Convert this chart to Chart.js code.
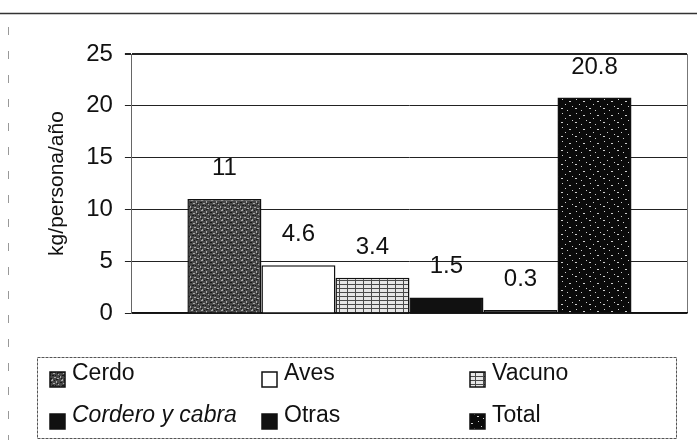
<!DOCTYPE html>
<html>
<head>
<meta charset="utf-8">
<script src="https://cdn.jsdelivr.net/npm/chart.js@4"></script>
<style>
  html, body { margin: 0; padding: 0; background: #fff; }
  #wrap { width: 697px; height: 446px; position: relative; }
</style>
</head>
<body>
<div id="wrap"><canvas id="chart"></canvas></div>
<script>
// datos
const series = ['Cerdo', 'Aves', 'Vacuno', 'Cordero y cabra', 'Otras', 'Total'];
const values = [11, 4.6, 3.4, 1.5, 0.3, 20.8];
const yTicks = [0, 5, 10, 15, 20, 25];
const yTitle = 'kg/persona/año';

const FONT = '"Liberation Sans", Arial, sans-serif';
const canvas = document.getElementById('chart');
const ctx = canvas.getContext('2d');

// tramas de relleno (como en la impresion original)
function makePattern(size, base, marks) {
  const c = document.createElement('canvas');
  c.width = size[0]; c.height = size[1];
  const g = c.getContext('2d');
  g.fillStyle = base;
  g.fillRect(0, 0, size[0], size[1]);
  marks.forEach(([color, rects]) => {
    g.fillStyle = color;
    rects.forEach(([x, y, w, h]) => g.fillRect(x, y, w, h));
  });
  return ctx.createPattern(c, 'repeat');
}

const cerdoFill = makePattern([10, 10], '#474747', [
  ['#a8a8a8', [[1,0,2,1],[6,1,1,2],[3,3,2,1],[8,4,1,1],[0,6,1,2],[4,7,2,1],[7,8,2,1],[2,9,1,1]]],
  ['#1a1a1a', [[4,0,1,1],[0,2,2,1],[7,3,1,1],[2,5,2,1],[9,6,1,1],[5,5,1,1],[1,8,1,1],[6,9,2,1]]]
]);
const vacunoFill = makePattern([8, 4], '#e6e6e6', [
  ['#4a4a4a', [[0,0,8,1],[3,1,1,3]]]
]);
const totalFill = makePattern([14, 14], '#0a0a0a', [
  ['#d0d0d0', [[2,1,1,1],[9,3,2,1],[5,6,1,1],[12,8,1,1],[1,10,2,1],[7,12,1,1]]]
]);
const fills = [cerdoFill, '#ffffff', vacunoFill, '#111111', '#111111', totalFill];

// etiquetas de valor encima de cada barra
const valueLabels = {
  id: 'valueLabels',
  afterDatasetsDraw(chart) {
    const c = chart.ctx;
    c.save();
    c.font = '24px ' + FONT;
    c.fillStyle = '#111';
    c.textAlign = 'center';
    c.textBaseline = 'alphabetic';
    chart.data.datasets.forEach((ds, i) => {
      const bar = chart.getDatasetMeta(i).data[0];
      c.fillText(String(ds.data[0]), bar.x, bar.y - 24);
    });
    c.restore();
  }
};

// leyenda en tres columnas dentro de un recuadro
const gridLegend = {
  id: 'gridLegend',
  afterDraw(chart) {
    const c = chart.ctx;
    const box = { x: 37, y: 357, w: 639, h: 81 };
    const cols = [50, 262, 470];
    const rows = [380, 422];
    c.save();
    c.strokeStyle = '#555';
    c.lineWidth = 1;
    c.setLineDash([3, 1]);
    c.strokeRect(box.x + 0.5, box.y + 0.5, box.w, box.h);
    c.setLineDash([]);
    chart.data.datasets.forEach((ds, i) => {
      const sx = cols[i % 3];
      const base = rows[Math.floor(i / 3)];
      c.fillStyle = ds.backgroundColor;
      c.fillRect(sx, base - 8, 15, 15);
      c.strokeStyle = '#111';
      c.lineWidth = 1.5;
      c.strokeRect(sx, base - 8, 15, 15);
      c.fillStyle = '#111';
      c.font = (ds.label === 'Cordero y cabra' ? 'italic ' : '') + '23px ' + FONT;
      c.textBaseline = 'alphabetic';
      c.fillText(ds.label, sx + 22, base);
    });
    c.restore();
  }
};

// marco del escaneo: linea superior y trazos a la izquierda
const pageFrame = {
  id: 'pageFrame',
  beforeDraw(chart) {
    const c = chart.ctx;
    c.save();
    c.strokeStyle = '#333';
    c.lineWidth = 1.5;
    c.beginPath();
    c.moveTo(0, 13.5);
    c.lineTo(chart.width, 13.5);
    c.stroke();
    c.strokeStyle = '#999';
    c.lineWidth = 1;
    c.setLineDash([8, 16]);
    c.beginPath();
    c.moveTo(8.5, 27);
    c.lineTo(8.5, 440);
    c.stroke();
    c.restore();
  }
};

new Chart(ctx, {
  type: 'bar',
  data: {
    labels: [''],
    datasets: series.map((s, i) => ({
      label: s,
      data: [values[i]],
      backgroundColor: fills[i],
      borderColor: '#111',
      borderWidth: 1.5,
      categoryPercentage: 0.8,
      barPercentage: 1
    }))
  },
  options: {
    responsive: true,
    maintainAspectRatio: false,
    animation: false,
    devicePixelRatio: 1,
    layout: { padding: { left: 10, top: 54, right: 10, bottom: 133 } },
    scales: {
      x: {
        ticks: { display: false },
        grid: { display: true, drawTicks: false, color: '#777', offset: true },
        border: { display: true, color: '#111', width: 1.5 }
      },
      y: {
        min: 0,
        max: 25,
        afterBuildTicks: scale => { scale.ticks = yTicks.map(v => ({ value: v })); },
        ticks: { font: { family: FONT, size: 24 }, color: '#111', padding: 12 },
        grid: {
          color: '#222',
          lineWidth: c => (c.tick && c.tick.value === 25 ? 2 : 1),
          tickLength: 7
        },
        border: { color: '#666', width: 1 },
        title: {
          display: true,
          text: yTitle,
          color: '#111',
          font: { family: FONT, size: 21 },
          padding: { top: 35, bottom: 4 }
        }
      }
    },
    plugins: {
      legend: { display: false },
      tooltip: { enabled: false }
    }
  },
  plugins: [pageFrame, valueLabels, gridLegend]
});
</script>
</body>
</html>
